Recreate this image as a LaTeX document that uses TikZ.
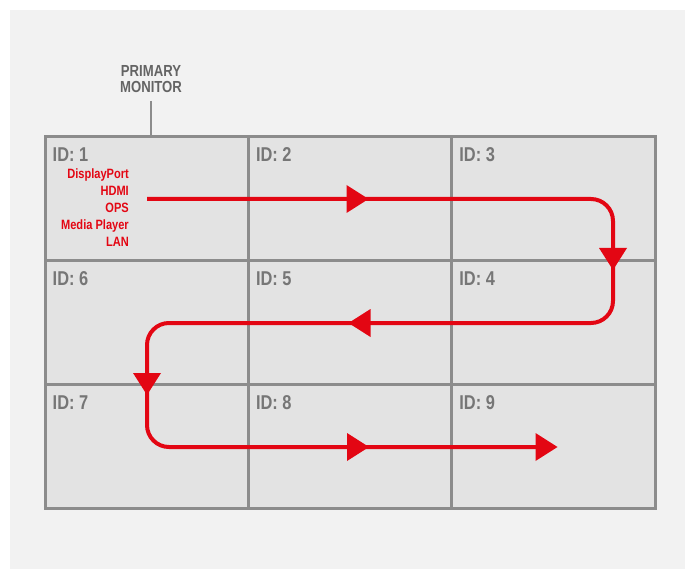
\documentclass[tikz,border=0pt]{standalone}
\usepackage{fontspec}
\newfontfamily\dinf[FakeStretch=0.82]{Liberation Sans}
\definecolor{bggray}{HTML}{F2F2F2}
\definecolor{cellfill}{HTML}{E3E3E3}
\definecolor{gridgray}{HTML}{8C8C8C}
\definecolor{idgray}{HTML}{767676}
\definecolor{titlegray}{HTML}{646464}
\definecolor{mred}{HTML}{E30613}
\begin{document}
\begin{tikzpicture}[x=1pt,y=-1pt,
  cell/.style={draw=gridgray,fill=cellfill,line width=3pt,minimum width=203.33pt,minimum height=124.33pt,inner sep=0pt},
  idlab/.style={text=idgray,font=\dinf\bfseries\fontsize{20}{20}\selectfont,inner sep=0pt,anchor=base west},
  redline/.style={draw=mred,line width=4pt,rounded corners=22pt},
  tri/.pic={\fill[mred] (-11,-14) -- (11,0) -- (-11,14) -- cycle;}
]
\useasboundingbox (0,0) rectangle (685,569);
\fill[bggray] (10,10) rectangle (685,569);
% cells
\node[cell] (c1) at (146.67,198.17) {};
\node[cell] (c2) at (350,198.17) {};
\node[cell] (c3) at (553.33,198.17) {};
\node[cell] (c6) at (146.67,322.5) {};
\node[cell] (c5) at (350,322.5) {};
\node[cell] (c4) at (553.33,322.5) {};
\node[cell] (c7) at (146.67,446.83) {};
\node[cell] (c8) at (350,446.83) {};
\node[cell] (c9) at (553.33,446.83) {};
\foreach \c/\t in {c1/1,c2/2,c3/3,c4/4,c5/5,c6/6,c7/7,c8/8,c9/9}{
  \node[idlab] (l\c) at ([xshift=9pt,yshift=-26.5pt]\c.north west) {ID: \t};
}
% title
\node[text=titlegray,font=\dinf\bfseries\fontsize{16}{16}\selectfont,align=center,inner sep=0pt,anchor=base] (mon) at (151,93) {PRIMARY\\MONITOR};
\coordinate (ltop) at (151,101);
\draw[gridgray,line width=2pt] (ltop) -- (ltop |- c1.north);
% inputs
\node[text=mred,font=\dinf\bfseries\fontsize{13.5}{17}\selectfont,align=right,inner sep=0pt,anchor=base east] (inp) at (129,247) {DisplayPort\\HDMI\\OPS\\Media Player\\LAN};
% path
\coordinate (p0) at (147,199);
\coordinate (p1) at (613,199);
\coordinate (p2) at (613,323);
\coordinate (p3) at (147,323);
\coordinate (p4) at (147,447);
\coordinate (p5) at (545,447);
\draw[redline] (p0) -- (p1) -- (p2) -- (p3) -- (p4) -- (p5);
\pic at (357.5,199) {tri};
\pic[rotate=-90] at (613,259) {tri};
\pic[rotate=180] at (359.5,323) {tri};
\pic[rotate=-90] at (147,384) {tri};
\pic at (358,447) {tri};
\pic at (546.5,447) {tri};
\end{tikzpicture}
\end{document}
